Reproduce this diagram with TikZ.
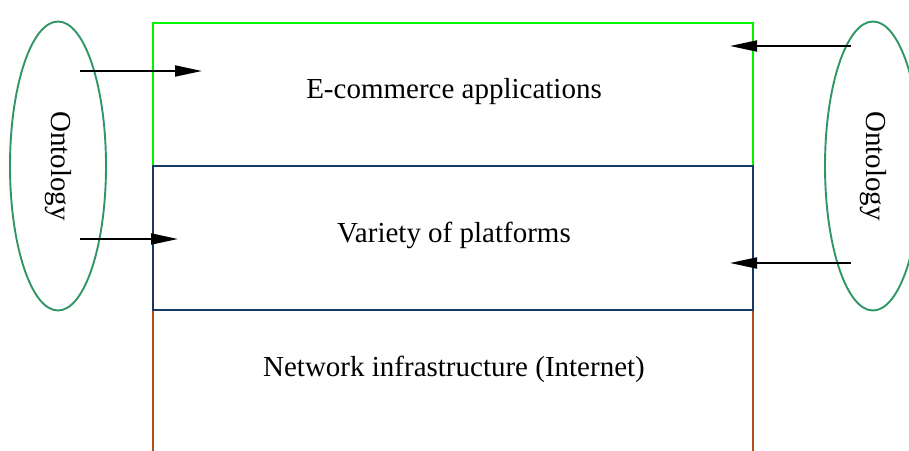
\documentclass[tikz,border=0pt]{standalone}
\usepackage{fontspec}
\setmainfont{Liberation Serif}
\usetikzlibrary{arrows.meta,shapes.geometric}
\definecolor{appgreen}{RGB}{0,245,0}
\definecolor{platblue}{RGB}{22,56,98}
\definecolor{netbrown}{RGB}{178,78,22}
\definecolor{ontogreen}{RGB}{48,150,102}
\tikzset{
	layer/.style={draw, line width=1.9pt, minimum width=600pt, inner sep=0pt},
	layertext/.style={font=\fontsize{29}{35}\selectfont},
	onto/.style={draw=ontogreen, line width=1.9pt, ellipse, minimum width=96pt, minimum height=289pt, inner sep=0pt, font=\fontsize{29}{35}\selectfont},
	feed/.style={line width=1.9pt, -{Triangle[length=27pt,width=11pt]}}
}

\begin{document}
\begin{tikzpicture}[x=1pt, y=1pt]
		%%%%% START %%%%%
		\useasboundingbox (0, 0) rectangle (909, 450);
		\clip (0, 0) rectangle (909, 450);
		
		% the three layers
		\node[layer, draw=netbrown, minimum height=170pt] (net) at (453, 55) {};
		\node[layer, draw=appgreen, minimum height=143pt] (app) at (453, 355.5) {};
		\node[layer, draw=platblue, minimum height=144pt] (plat) at (453, 212) {};
		
		\node[layertext] (apptext) at (454, 358.5) {E-commerce applications};
		\node[layertext] (plattext) at (454, 214.5) {Variety of platforms};
		\node[layertext] (nettext) at (454, 81) {Network infrastructure (Internet)};
		
		% ontologies
		\node[onto] (ontoL) at (58, 284) {\rotatebox{-90}{Ontology}};
		\node[onto] (ontoR) at (873, 284) {\rotatebox{-90}{Ontology}};
		
		\coordinate (l1) at (80, 379);
		\coordinate (l2) at (80, 211);
		\coordinate (r1) at (851, 404);
		\coordinate (r2) at (851, 187);
		\coordinate (appL) at (202, 379);
		\coordinate (platL) at (178, 211);
		\coordinate (appR) at (730, 404);
		\coordinate (platR) at (730, 187);
		
		\draw[feed] (l1) -- (appL);
		\draw[feed] (l2) -- (platL);
		\draw[feed] (r1) -- (appR);
		\draw[feed] (r2) -- (platR);
		%%%%% END %%%%%
	\end{tikzpicture}
\end{document}
